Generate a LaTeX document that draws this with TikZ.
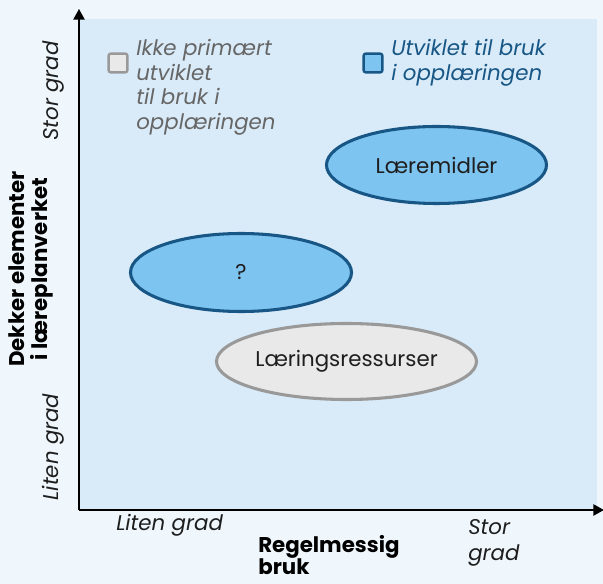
\documentclass[tikz,border=0pt]{standalone}
\usepackage{fontspec}
\setmainfont{Poppins}
\usetikzlibrary{arrows.meta,shapes.geometric}
\definecolor{pagebg}{HTML}{EFF7FC}
\definecolor{plotbg}{HTML}{D9EBF8}
\definecolor{bluefill}{HTML}{7EC4F1}
\definecolor{blueline}{HTML}{175685}
\definecolor{grayfill}{HTML}{E9E9E9}
\definecolor{grayline}{HTML}{999999}
\definecolor{graytext}{HTML}{666666}
\definecolor{darktext}{HTML}{1E1E1E}
\tikzset{
  ellbase/.style={ellipse, line width=2.3pt, inner sep=0pt, text=darktext, font=\fontsize{16}{19}\selectfont},
  blueell/.style={ellbase, draw=blueline, fill=bluefill},
  grayell/.style={ellbase, draw=grayline, fill=grayfill},
  lbl/.style={font=\fontsize{16}{18.4}\selectfont\itshape, inner sep=0pt, text=darktext},
  bold/.style={font=\fontsize{16}{16.5}\selectfont\bfseries, inner sep=0pt, text=black},
  legbox/.style={line width=1.8pt, minimum size=14pt, inner sep=0pt, rounded corners=1.5pt},
  axis/.style={line width=1.1pt, -{Triangle[length=8pt,width=8.5pt]}}
}
\begin{document}
\begin{tikzpicture}[x=0.75pt,y=-0.75pt]
\useasboundingbox (0,0) rectangle (603,584);
\fill[pagebg] (0,0) rectangle (603,584);
\fill[plotbg] (79,19) rectangle (597,511);
\coordinate (o) at (79,510);
\coordinate (ytop) at (79,9);
\coordinate (xend) at (604,510);
\draw[axis] (o) -- (ytop);
\draw[axis] (o) -- (xend);
% ellipses
\node[blueell, minimum width=220*0.75pt, minimum height=77*0.75pt] (lm) at (436.5,165) {Læremidler};
\node[blueell, minimum width=221*0.75pt, minimum height=78*0.75pt] (q) at (241,272.5) {?};
\node[grayell, minimum width=260*0.75pt, minimum height=76*0.75pt] (lr) at (346.5,361.5) {Læringsressurser};
% legend
\node[legbox, draw=grayline, fill=grayfill] (lg1) at (118,63) {};
\node[lbl, text=graytext, anchor=north west, align=left] (lt1) at (136,39) {Ikke primært\\utviklet\\til bruk i\\opplæringen};
\node[legbox, draw=blueline, fill=bluefill] (lg2) at (373,63) {};
\node[lbl, text=blueline, anchor=north west, align=left] (lt2) at (391,39) {Utviklet til bruk\\i opplæringen};
% y axis labels
\node[lbl, rotate=90, anchor=base] (ys) at (58,91) {Stor grad};
\node[lbl, rotate=90, anchor=base] (yl) at (58,447) {Liten grad};
\node[bold, rotate=90, align=center, font=\fontsize{16}{17.3}\selectfont\bfseries] (yt) at (31,269) {Dekker elementer\\i læreplanverket};
% x axis labels
\node[lbl, anchor=base west] (xl) at (116,530) {Liten grad};
\node[bold, anchor=north west, align=left] (xt) at (258,535) {Regelmessig\\bruk};
\node[lbl, anchor=north west, align=left, font=\fontsize{16}{20}\selectfont\itshape] (xs) at (468,519) {Stor\\grad};
\end{tikzpicture}
\end{document}
